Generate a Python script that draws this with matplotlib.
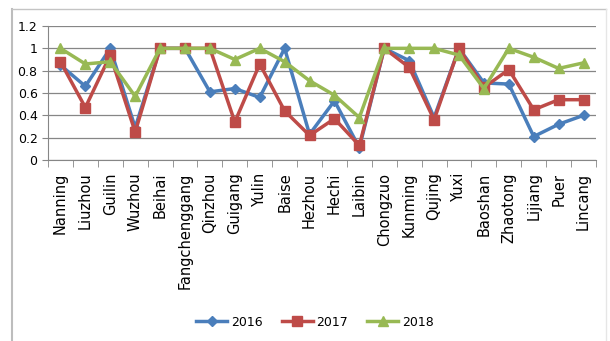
import matplotlib
matplotlib.use("Agg")
import matplotlib.pyplot as plt
from matplotlib.lines import Line2D

cities = ["Nanning", "Liuzhou", "Guilin", "Wuzhou", "Beihai", "Fangchenggang",
          "Qinzhou", "Guigang", "Yulin", "Baise", "Hezhou", "Hechi", "Laibin",
          "Chongzuo", "Kunming", "Qujing", "Yuxi", "Baoshan", "Zhaotong",
          "Lijiang", "Puer", "Lincang"]
v2016 = [0.85, 0.66, 1.0, 0.29, 1.0, 1.0, 0.61, 0.64, 0.56, 1.0, 0.23, 0.53,
         0.11, 1.0, 0.89, 0.38, 1.0, 0.69, 0.68, 0.21, 0.32, 0.40]
v2017 = [0.88, 0.47, 0.94, 0.25, 1.0, 1.0, 1.0, 0.34, 0.86, 0.44, 0.22, 0.37,
         0.13, 1.0, 0.83, 0.36, 1.0, 0.65, 0.81, 0.45, 0.54, 0.54]
v2018 = [1.0, 0.86, 0.88, 0.57, 1.0, 1.0, 1.0, 0.90, 1.0, 0.88, 0.71, 0.58,
         0.38, 1.0, 1.0, 1.0, 0.94, 0.64, 1.0, 0.92, 0.82, 0.87]
years = ["2016", "2017", "2018"]
yticks = [0, 0.2, 0.4, 0.6, 0.8, 1, 1.2]
ytick_labels = ["0", "0.2", "0.4", "0.6", "0.8", "1", "1.2"]

W, H = 610, 341
fig = plt.figure(figsize=(W / 100, H / 100), dpi=100)
fig.patch.set_facecolor("white")

# outer chart frame (left and top visible, right faint)
fig.add_artist(Line2D([12 / W, 12 / W], [0, 1 - 9 / H], transform=fig.transFigure,
                      color="#bdbdbd", linewidth=1.5))
fig.add_artist(Line2D([12 / W, 606 / W], [1 - 9 / H, 1 - 9 / H],
                      transform=fig.transFigure, color="#c4c4c4", linewidth=1.0))
fig.add_artist(Line2D([606 / W, 606 / W], [0, 1 - 9 / H], transform=fig.transFigure,
                      color="#e6e6e6", linewidth=1.0))

ax = fig.add_axes([48 / W, 1 - 160 / H, (596 - 48) / W, (160 - 26) / H])
x = list(range(len(cities)))
styles = [("#4A7EBB", "D", 5), ("#BE4B48", "s", 7.5), ("#98B954", "^", 7.5)]
for vals, yr, (c, m, ms) in zip([v2016, v2017, v2018], years, styles):
    ax.plot(x, vals, color=c, marker=m, markersize=ms, linewidth=2.5,
            label=yr, markeredgecolor=c)

ax.set_xlim(-0.5, len(cities) - 0.5)
ax.set_ylim(0, 1.2)
ax.set_yticks(yticks)
ax.set_yticklabels(ytick_labels, fontsize=9)
ax.set_xticks(x)
ax.set_xticklabels(cities, rotation=90, fontsize=10.5)
ax.set_xticks([i - 0.5 for i in range(len(cities) + 1)], minor=True)
ax.tick_params(axis="x", which="major", length=0, pad=9)
ax.tick_params(axis="x", which="minor", length=5, color="#868686")
ax.tick_params(axis="y", length=4, color="#868686")
ax.grid(axis="y", color="#868686", linewidth=0.9)
ax.set_axisbelow(True)
for s in ["top", "right"]:
    ax.spines[s].set_visible(False)
for s in ["left", "bottom"]:
    ax.spines[s].set_color("#868686")

leg = fig.legend(loc="center", bbox_to_anchor=(315 / W, 1 - 322 / H), ncol=3,
                 frameon=False, fontsize=9, handlelength=2.5,
                 columnspacing=1.5, handletextpad=0.3)

fig.savefig("out.png", dpi=100)
